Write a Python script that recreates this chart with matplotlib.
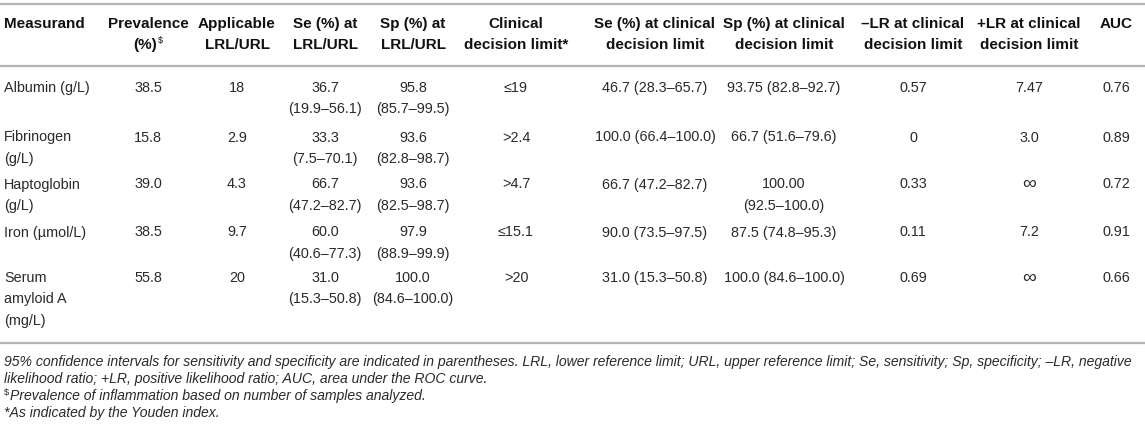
import matplotlib
matplotlib.use("Agg")
import matplotlib.pyplot as plt

# ---------------- data ----------------
headers = [
    "Measurand", "Prevalence\n(%)", "Applicable\nLRL/URL", "Se (%) at\nLRL/URL",
    "Sp (%) at\nLRL/URL", "Clinical\ndecision limit*", "Se (%) at clinical\ndecision limit",
    "Sp (%) at clinical\ndecision limit", "\u2013LR at clinical\ndecision limit",
    "+LR at clinical\ndecision limit", "AUC",
]
measurand = ["Albumin (g/L)", "Fibrinogen\n(g/L)", "Haptoglobin\n(g/L)",
             "Iron (\u00b5mol/L)", "Serum\namyloid A\n(mg/L)"]
prevalence = ["38.5", "15.8", "39.0", "38.5", "55.8"]
applicable_limit = ["18", "2.9", "4.3", "9.7", "20"]
se_at_ref = ["36.7\n(19.9\u201356.1)", "33.3\n(7.5\u201370.1)", "66.7\n(47.2\u201382.7)",
             "60.0\n(40.6\u201377.3)", "31.0\n(15.3\u201350.8)"]
sp_at_ref = ["95.8\n(85.7\u201399.5)", "93.6\n(82.8\u201398.7)", "93.6\n(82.5\u201398.7)",
             "97.9\n(88.9\u201399.9)", "100.0\n(84.6\u2013100.0)"]
decision_limit = ["\u226419", ">2.4", ">4.7", "\u226415.1", ">20"]
se_at_cdl = ["46.7 (28.3\u201365.7)", "100.0 (66.4\u2013100.0)", "66.7 (47.2\u201382.7)",
             "90.0 (73.5\u201397.5)", "31.0 (15.3\u201350.8)"]
sp_at_cdl = ["93.75 (82.8\u201392.7)", "66.7 (51.6\u201379.6)", "100.00\n(92.5\u2013100.0)",
             "87.5 (74.8\u201395.3)", "100.0 (84.6\u2013100.0)"]
neg_lr = ["0.57", "0", "0.33", "0.11", "0.69"]
pos_lr = ["7.47", "3.0", "\u221e", "7.2", "\u221e"]
auc = ["0.76", "0.89", "0.72", "0.91", "0.66"]

footnotes = [
    "95% confidence intervals for sensitivity and specificity are indicated in parentheses. LRL, lower reference limit; "
    "URL, upper reference limit; Se, sensitivity; Sp, specificity; \u2013LR, negative",
    "likelihood ratio; +LR, positive likelihood ratio; AUC, area under the ROC curve.",
    "Prevalence of inflammation based on number of samples analyzed.",
    "*As indicated by the Youden index.",
]

columns = [measurand, prevalence, applicable_limit, se_at_ref, sp_at_ref, decision_limit,
           se_at_cdl, sp_at_cdl, neg_lr, pos_lr, auc]

# ---------------- layout ----------------
W, H = 1145, 432
FONT = "Liberation Sans"
fig = plt.figure(figsize=(W / 100, H / 100), dpi=100)
ax = fig.add_axes([0, 0, 1, 1])
ax.set_xlim(0, W)
ax.set_ylim(H, 0)
ax.axis("off")

col_x = [4, 148, 237, 325, 413, 516, 655, 784, 913, 1029, 1116]
head_y = [24, 45]
row_y = [88, 137.5, 184.5, 232.5, 278]
line_h = 21.3
rule_color = "#b5b5b5"
body_color = "#2a2a2a"
head_color = "#111111"

for y in (4, 66, 343):
    ax.plot([0, W], [y, y], color=rule_color, lw=1.6, solid_capstyle="butt")

renderer = fig.canvas.get_renderer()

def px_width(t):
    return t.get_window_extent(renderer=renderer).width

# headers
for j, h in enumerate(headers):
    for k, line in enumerate(h.split("\n")):
        ha = "left" if j == 0 else "center"
        t = ax.text(col_x[j], head_y[k], line, ha=ha, va="center", fontsize=11,
                    fontweight="bold", family=FONT, color=head_color)
        if j == 1 and k == 1:
            w = px_width(t)
            t.set_x(col_x[j] - 3)
            ax.text(col_x[j] - 3 + w / 2 + 1, head_y[k] - 4, "$", ha="left", va="center",
                    fontsize=6.5, family=FONT, color=head_color)

# body
for j, col in enumerate(columns):
    for i, val in enumerate(col):
        for k, line in enumerate(val.split("\n")):
            ha = "left" if j == 0 else "center"
            size = 14 if line == "\u221e" else 10.4
            ax.text(col_x[j], row_y[i] + k * line_h, line, ha=ha, va="center",
                    fontsize=size, family=FONT, color=body_color)

# footnotes
foot_y = [362, 379, 396, 413]
probe = ax.text(0, 0, footnotes[0], fontsize=10, style="italic", family=FONT)
fs = 10 * 1136 / px_width(probe)
probe.remove()
for k, (y, s) in enumerate(zip(foot_y, footnotes)):
    x0 = 4
    if k == 2:
        ax.text(x0, y - 4, "$", ha="left", va="center", fontsize=fs * 0.65,
                family=FONT, color=body_color)
        x0 = 10
    ax.text(x0, y, s, ha="left", va="center", fontsize=fs, style="italic",
            family=FONT, color=body_color)

fig.savefig("out.png", dpi=100, facecolor="white")
